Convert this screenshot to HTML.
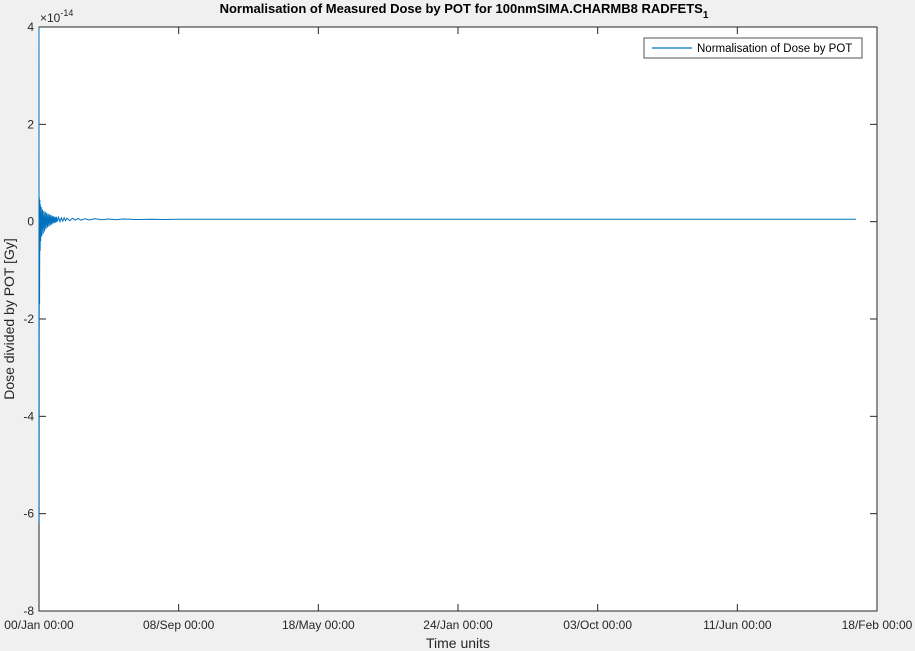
<!DOCTYPE html>
<html><head><meta charset="utf-8"><style>
body{margin:0;background:#f0f0f0;font-family:"Liberation Sans",sans-serif;}
svg{display:block}
</style></head><body>
<svg width="915" height="651" xmlns="http://www.w3.org/2000/svg">
<rect x="0" y="0" width="915" height="651" fill="#f0f0f0"/>
<rect x="39" y="27" width="838" height="584" fill="#fff" stroke="#262626" stroke-width="1"/>
<text x="464" y="13" text-anchor="middle" font-size="13" font-weight="bold" fill="#000">Normalisation of Measured Dose by POT for 100nmSIMA.CHARMB8 RADFETS<tspan font-size="10" dy="5">1</tspan></text>
<g id="yt" font-size="12" fill="#262626"></g>
<g id="xt" font-size="12" fill="#262626"></g>
<text x="40" y="22" font-size="12" fill="#262626">×10<tspan font-size="9" dy="-6">-14</tspan></text>
<text x="458" y="648" text-anchor="middle" font-size="14" fill="#262626">Time units</text>
<text transform="translate(14,319) rotate(-90)" text-anchor="middle" font-size="14" fill="#262626">Dose divided by POT [Gy]</text>
<path id="series" fill="none" stroke="#0072bd" stroke-width="1"/>
<g>
<rect x="644" y="38" width="218" height="20" fill="#fff" stroke="#262626" stroke-width="0.8"/>
<line x1="652" y1="48" x2="692" y2="48" stroke="#0072bd" stroke-width="1.2"/>
<text x="697" y="52" font-size="11.5" fill="#000">Normalisation of Dose by POT</text>
</g>
</svg>
<script>
const yTicks=[4,2,0,-2,-4,-6,-8];
const xTickLabels=["00/Jan 00:00","08/Sep 00:00","18/May 00:00","24/Jan 00:00","03/Oct 00:00","11/Jun 00:00","18/Feb 00:00"];
const tUnits=[0,0.001,0.002,0.004,0.006,0.008,0.01,0.012,0.016,0.02,0.025,0.03,0.035,0.04,0.045,0.05,0.055,0.06,0.065,0.07,0.075,0.08,0.085,0.09,0.095,0.1,0.105,0.11,0.115,0.12,0.125,0.13,0.14,0.15,0.16,0.17,0.18,0.19,0.2,0.22,0.24,0.26,0.28,0.3,0.33,0.36,0.4,0.45,0.5,0.55,0.6,0.7,0.8,0.9,1,2,3,4,5,5.85];
const values=[4,-6.2,0.5,-1.7,0.45,-0.6,0.35,-0.4,0.3,-0.3,0.25,-0.25,0.22,-0.2,0.2,-0.15,0.18,-0.12,0.16,-0.1,0.15,-0.08,0.14,-0.06,0.12,-0.04,0.11,-0.03,0.1,-0.02,0.1,0,0.09,0,0.08,0.01,0.08,0.02,0.07,0.02,0.07,0.03,0.065,0.03,0.06,0.035,0.06,0.04,0.055,0.04,0.055,0.045,0.05,0.045,0.05,0.05,0.05,0.05,0.05,0.05];
const X0=39,X1=877,Y0=611,Y1=27;
const xs=u=>X0+u*(X1-X0)/6;
const ys=v=>Y0-(v+8)*(Y0-Y1)/12;
const NS="http://www.w3.org/2000/svg";
const yt=document.getElementById('yt'),xt=document.getElementById('xt');
yTicks.forEach(v=>{
  const y=ys(v);
  [[X0,X0+7],[X1-7,X1]].forEach(p=>{const l=document.createElementNS(NS,'line');l.setAttribute('x1',p[0]);l.setAttribute('x2',p[1]);l.setAttribute('y1',y);l.setAttribute('y2',y);l.setAttribute('stroke','#262626');
  
  yt.appendChild(l);});
  const t=document.createElementNS(NS,'text');t.setAttribute('x',X0-5);t.setAttribute('y',y+4);t.setAttribute('text-anchor','end');t.textContent=v;
  
  yt.appendChild(t);
});
xTickLabels.forEach((s,i)=>{
  const x=xs(i);
  [[Y0,Y0-7],[Y1,Y1+7]].forEach(p=>{const l=document.createElementNS(NS,'line');l.setAttribute('x1',x);l.setAttribute('x2',x);l.setAttribute('y1',p[0]);l.setAttribute('y2',p[1]);l.setAttribute('stroke','#262626');
  
  xt.appendChild(l);});
  const t=document.createElementNS(NS,'text');t.setAttribute('x',x);t.setAttribute('y',Y0+18);t.setAttribute('text-anchor','middle');t.textContent=s;
  
  xt.appendChild(t);
});
document.getElementById('series').setAttribute('d',tUnits.map((u,i)=>(i?'L':'M')+xs(u).toFixed(2)+','+ys(values[i]).toFixed(2)).join(''));
</script>
</body></html>
